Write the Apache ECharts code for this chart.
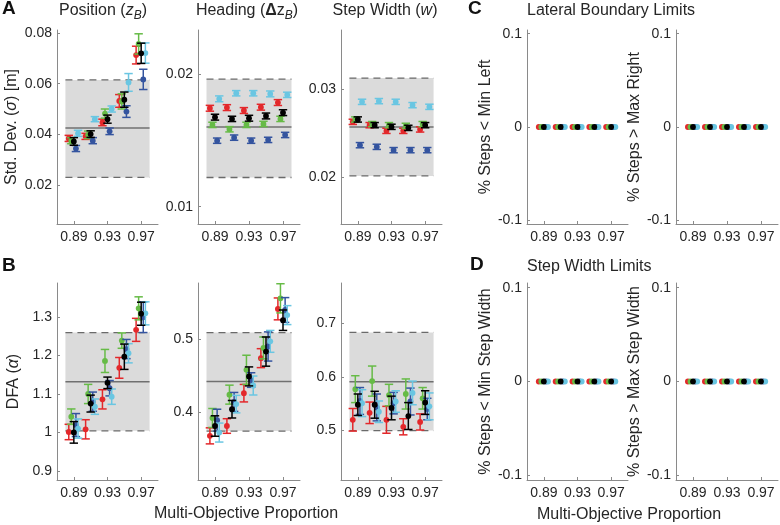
<!DOCTYPE html>
<html><head><meta charset="utf-8">
<script src="https://cdn.jsdelivr.net/npm/echarts@6/dist/echarts.min.js"></script>
<style>html,body{margin:0;padding:0;background:#fff}#c{width:780px;height:525px}</style>
</head><body><div id="c"></div>
<script>
// ---------- data ----------
const proportions = [0.89, 0.91, 0.93, 0.95, 0.97];
const xTicks = [0.89, 0.93, 0.97];
// drawing order: red, green, blue, cyan, black
const groupColors = ['#e3282b', '#66bb46', '#34549f', '#6ac6e2', '#000000'];
const groupOffsets = [-0.006, -0.003, 0.0025, 0.005, 0];

// A: Position std dev
const posStdMean = [
  [0.0384, 0.0392, 0.0447, 0.0532, 0.0713],
  [0.0375, 0.0398, 0.0482, 0.0530, 0.0757],
  [0.0344, 0.0375, 0.0412, 0.0490, 0.0617],
  [0.0404, 0.0460, 0.0500, 0.0605, 0.0721],
  [0.0372, 0.0401, 0.0460, 0.0537, 0.0720]];
const posStdErr = [
  [0.0012, 0.0012, 0.0013, 0.0025, 0.0035],
  [0.0012, 0.0015, 0.0018, 0.0030, 0.0040],
  [0.0012, 0.0012, 0.0013, 0.0023, 0.0040],
  [0.0012, 0.0010, 0.0012, 0.0035, 0.0040],
  [0.0015, 0.0013, 0.0016, 0.0030, 0.0040]];
const posStdBand = [0.023, 0.0615, 0.0425];
const posStdTicks = [0.02, 0.04, 0.06, 0.08];

// A: Heading std dev
const headStdMean = [
  [0.01741, 0.01746, 0.01724, 0.01749, 0.01784],
  [0.01616, 0.01583, 0.01616, 0.01623, 0.01661],
  [0.01497, 0.01520, 0.01497, 0.01503, 0.01540],
  [0.01812, 0.01854, 0.01854, 0.01849, 0.01842],
  [0.01674, 0.01661, 0.01666, 0.01683, 0.01708]];
const headStdErr = [
  [0.00022, 0.00022, 0.00022, 0.00022, 0.00022],
  [0.00020, 0.00020, 0.00020, 0.00020, 0.00020],
  [0.00020, 0.00020, 0.00020, 0.00020, 0.00020],
  [0.00022, 0.00020, 0.00020, 0.00022, 0.00020],
  [0.00022, 0.00020, 0.00022, 0.00022, 0.00022]];
const headStdBand = [0.0122, 0.0196, 0.0160];
const headStdTicks = [0.01, 0.02];

// A: Step width std dev
const swStdMean = [
  [0.02629, 0.02591, 0.02526, 0.02526, 0.02542],
  [0.02656, 0.02603, 0.02591, 0.02583, 0.02603],
  [0.02362, 0.02343, 0.02305, 0.02305, 0.02305],
  [0.02858, 0.02866, 0.02858, 0.02820, 0.02801],
  [0.02656, 0.02591, 0.02572, 0.02560, 0.02591]];
const swStdErr = [
  [0.0003, 0.0003, 0.0003, 0.0003, 0.0003],
  [0.0003, 0.0003, 0.0003, 0.0003, 0.0003],
  [0.0003, 0.0003, 0.0003, 0.0003, 0.0003],
  [0.0003, 0.0003, 0.0003, 0.0003, 0.0003],
  [0.0003, 0.0003, 0.0003, 0.0003, 0.0003]];
const swStdBand = [0.0201, 0.0313, 0.0257];
const swStdTicks = [0.02, 0.03];

// B: DFA position
const posDfaMean = [
  [1.001, 1.008, 1.086, 1.168, 1.267],
  [1.041, 1.100, 1.186, 1.239, 1.323],
  [1.019, 1.080, 1.115, 1.217, 1.300],
  [1.010, 1.067, 1.093, 1.206, 1.310],
  [1.000, 1.075, 1.129, 1.197, 1.309]];
const posDfaErr = [
  [0.020, 0.025, 0.025, 0.027, 0.030],
  [0.020, 0.025, 0.030, 0.020, 0.030],
  [0.030, 0.025, 0.020, 0.025, 0.040],
  [0.025, 0.020, 0.020, 0.025, 0.030],
  [0.028, 0.022, 0.015, 0.033, 0.030]];
const posDfaBand = [1.004, 1.26, 1.132];
const posDfaTicks = [0.9, 1, 1.1, 1.2, 1.3];

// B: DFA heading
const headDfaMean = [
  [0.3675, 0.381, 0.426, 0.474, 0.5415],
  [0.392, 0.424, 0.458, 0.488, 0.556],
  [0.389, 0.414, 0.444, 0.490, 0.540],
  [0.372, 0.411, 0.4365, 0.497, 0.533],
  [0.381, 0.404, 0.449, 0.483, 0.526]];
const headDfaErr = [
  [0.011, 0.010, 0.012, 0.013, 0.015],
  [0.013, 0.013, 0.020, 0.015, 0.020],
  [0.015, 0.013, 0.010, 0.020, 0.017],
  [0.013, 0.012, 0.013, 0.015, 0.013],
  [0.014, 0.012, 0.013, 0.020, 0.014]];
const headDfaBand = [0.374, 0.509, 0.442];
const headDfaTicks = [0.4, 0.5];

// B: DFA step width
const swDfaMean = [
  [0.520, 0.533, 0.520, 0.507, 0.516],
  [0.577, 0.592, 0.566, 0.568, 0.560],
  [0.555, 0.543, 0.551, 0.554, 0.540],
  [0.551, 0.535, 0.554, 0.570, 0.545],
  [0.548, 0.548, 0.542, 0.527, 0.552]];
const swDfaErr = [
  [0.021, 0.020, 0.025, 0.015, 0.015],
  [0.025, 0.028, 0.020, 0.028, 0.020],
  [0.025, 0.025, 0.020, 0.025, 0.020],
  [0.025, 0.020, 0.020, 0.022, 0.025],
  [0.020, 0.025, 0.022, 0.025, 0.022]];
const swDfaBand = [0.500, 0.6825, 0.591];
const swDfaTicks = [0.5, 0.6, 0.7];

// C, D: percent of steps beyond limits (all zero)
const limitMean = [
  [0, 0, 0, 0, 0],
  [0, 0, 0, 0, 0],
  [0, 0, 0, 0, 0],
  [0, 0, 0, 0, 0],
  [0, 0, 0, 0, 0]];
const limitErr = [
  [0, 0, 0, 0, 0],
  [0, 0, 0, 0, 0],
  [0, 0, 0, 0, 0],
  [0, 0, 0, 0, 0],
  [0, 0, 0, 0, 0]];
const limitTicks = [-0.1, 0, 0.1];

// ---------- layout ----------
const TXT = '#262626', AX = '#8a8a8a', FONT = 'Liberation Sans, Arial, Helvetica, sans-serif';
const panels = [
  {box:[57, 30, 101, 194], y:[0.0046, 0.0812], ticks:posStdTicks, mean:posStdMean, err:posStdErr, band:posStdBand,
   name:'Std. Dev. ({i|σ}) [m]', gap:37},
  {box:[198, 30, 102, 194], y:[0.0087, 0.0233], ticks:headStdTicks, mean:headStdMean, err:headStdErr, band:headStdBand},
  {box:[341, 30, 101, 194], y:[0.0146, 0.0368], ticks:swStdTicks, mean:swStdMean, err:swStdErr, band:swStdBand},
  {box:[57, 283, 101, 197], y:[0.876, 1.389], ticks:posDfaTicks, mean:posDfaMean, err:posDfaErr, band:posDfaBand,
   name:'DFA ({i|α})', gap:35},
  {box:[198, 283, 102, 197], y:[0.307, 0.577], ticks:headDfaTicks, mean:headDfaMean, err:headDfaErr, band:headDfaBand},
  {box:[341, 283, 101, 197], y:[0.408, 0.7745], ticks:swDfaTicks, mean:swDfaMean, err:swDfaErr, band:swDfaBand},
  {box:[527, 30, 101, 194], y:[-0.104, 0.104], ticks:limitTicks, mean:limitMean, err:limitErr, name:'% Steps < Min Left', gap:30},
  {box:[676, 30, 102, 194], y:[-0.104, 0.104], ticks:limitTicks, mean:limitMean, err:limitErr, name:'% Steps > Max Right', gap:30},
  {box:[527, 283, 101, 197], y:[-0.105, 0.105], ticks:limitTicks, mean:limitMean, err:limitErr, name:'% Steps < Min Step Width', gap:30},
  {box:[676, 283, 102, 197], y:[-0.105, 0.105], ticks:limitTicks, mean:limitMean, err:limitErr, name:'% Steps > Max Step Width', gap:30}
];

function fmt(v) { return String(+(+v).toFixed(4)); }

function bandItem(params, api) {
  const x0 = api.value(0), x1 = api.value(1), lo = api.value(2), hi = api.value(3), m = api.value(4);
  const pTop = api.coord([x0, hi]), pBot = api.coord([x1, lo]), pm = api.coord([x0, m]);
  const dash = {stroke:'#6a6a6a', lineWidth:1.3, lineDash:[7, 5]};
  return {type:'group', children:[
    {type:'rect', shape:{x:pTop[0], y:pTop[1], width:pBot[0]-pTop[0], height:pBot[1]-pTop[1]}, style:{fill:'#dbdbdb'}},
    {type:'line', shape:{x1:pTop[0], y1:pTop[1], x2:pBot[0], y2:pTop[1]}, style:dash},
    {type:'line', shape:{x1:pTop[0], y1:pBot[1], x2:pBot[0], y2:pBot[1]}, style:dash},
    {type:'line', shape:{x1:pTop[0], y1:pm[1], x2:pBot[0], y2:pm[1]}, style:{stroke:'#707070', lineWidth:1.5}}
  ]};
}

function errItem(params, api) {
  const x = api.value(0), y = api.value(1), e = api.value(2);
  const c = api.coord([x, y]);
  const col = api.visual('color');
  const ch = [];
  if (e > 0) {
    const t = api.coord([x, y + e])[1], b = api.coord([x, y - e])[1], w = 4.2;
    const st = {stroke:col, lineWidth:1.5};
    ch.push({type:'line', shape:{x1:c[0], y1:t, x2:c[0], y2:b}, style:st});
    ch.push({type:'line', shape:{x1:c[0]-w, y1:t, x2:c[0]+w, y2:t}, style:st});
    ch.push({type:'line', shape:{x1:c[0]-w, y1:b, x2:c[0]+w, y2:b}, style:st});
  }
  ch.push({type:'circle', shape:{cx:c[0], cy:c[1], r:2.9}, style:{fill:col}});
  return {type:'group', children:ch};
}

const grid = [], xAxis = [], yAxis = [], series = [];
panels.forEach((p, i) => {
  grid.push({left:p.box[0], top:p.box[1], width:p.box[2], height:p.box[3], containLabel:false});
  xAxis.push({type:'value', gridIndex:i, min:0.87, max:0.99,
    axisLine:{show:true, onZero:false, lineStyle:{color:AX, width:1}},
    axisTick:{show:true, inside:true, length:3, customValues:xTicks, lineStyle:{color:AX}},
    axisLabel:{customValues:xTicks, formatter:v => (+v).toFixed(2), fontSize:14, color:TXT, margin:6, fontFamily:FONT},
    splitLine:{show:false}});
  const ya = {type:'value', gridIndex:i, min:p.y[0], max:p.y[1],
    axisLine:{show:true, onZero:false, lineStyle:{color:AX, width:1}},
    axisTick:{show:true, inside:true, length:3, customValues:p.ticks, lineStyle:{color:AX}},
    axisLabel:{customValues:p.ticks, formatter:fmt, fontSize:14, color:TXT, margin:5, fontFamily:FONT},
    splitLine:{show:false}};
  if (p.name) {
    ya.name = p.name; ya.nameLocation = 'middle'; ya.nameGap = p.gap;
    ya.nameTextStyle = {fontSize:16, color:TXT, fontFamily:FONT,
      rich:{i:{fontStyle:'italic', fontSize:16, color:TXT, fontFamily:FONT}}};
  }
  yAxis.push(ya);
  if (p.band) {
    series.push({type:'custom', xAxisIndex:i, yAxisIndex:i, renderItem:bandItem, silent:true, z:1,
      encode:{x:[0, 1], y:[2, 3, 4]},
      data:[[0.88, 0.98, p.band[0], p.band[1], p.band[2]]]});
  }
  groupColors.forEach((col, g) => {
    series.push({type:'custom', xAxisIndex:i, yAxisIndex:i, renderItem:errItem, z:2 + g,
      itemStyle:{color:col}, encode:{x:0, y:1},
      data:proportions.map((x, k) => [x + groupOffsets[g], p.mean[g][k], p.err[g][k]])});
  });
});

const graphic = [
  {type:'text', x:2, y:9, style:{text:'A', font:'bold 19px ' + FONT, fill:'#111', verticalAlign:'middle'}},
  {type:'text', x:2, y:266, style:{text:'B', font:'bold 19px ' + FONT, fill:'#111', verticalAlign:'middle'}},
  {type:'text', x:468, y:9, style:{text:'C', font:'bold 19px ' + FONT, fill:'#111', verticalAlign:'middle'}},
  {type:'text', x:470, y:265, style:{text:'D', font:'bold 19px ' + FONT, fill:'#111', verticalAlign:'middle'}},
  {type:'text', x:103, y:11, style:{text:'Position ({i|z}{s|B})', font:'16px ' + FONT, fill:TXT, align:'center', verticalAlign:'middle',
    rich:{i:{fontStyle:'italic', fontSize:16, fontFamily:FONT, fill:TXT, lineHeight:21, verticalAlign:'middle'},
          s:{fontStyle:'italic', fontSize:12, fontFamily:FONT, fill:TXT, lineHeight:13, verticalAlign:'bottom'}}}},
  {type:'text', x:247, y:11, style:{text:'Heading ({b|Δ}{i|z}{s|B})', font:'16px ' + FONT, fill:TXT, align:'center', verticalAlign:'middle',
    rich:{b:{fontWeight:'bold', fontSize:16, fontFamily:FONT, fill:TXT, lineHeight:21, verticalAlign:'middle'},
          i:{fontSize:16, fontFamily:FONT, fill:TXT, lineHeight:21, verticalAlign:'middle'},
          s:{fontStyle:'italic', fontSize:12, fontFamily:FONT, fill:TXT, lineHeight:13, verticalAlign:'bottom'}}}},
  {type:'text', x:385, y:11, style:{text:'Step Width ({i|w})', font:'16px ' + FONT, fill:TXT, align:'center', verticalAlign:'middle',
    rich:{i:{fontStyle:'italic', fontSize:16, fontFamily:FONT, fill:TXT}}}},
  {type:'text', x:527, y:11, style:{text:'Lateral Boundary Limits', font:'16px ' + FONT, fill:TXT, verticalAlign:'middle'}},
  {type:'text', x:527, y:267, style:{text:'Step Width Limits', font:'16px ' + FONT, fill:TXT, verticalAlign:'middle'}},
  {type:'text', x:246, y:514, style:{text:'Multi-Objective Proportion', font:'16px ' + FONT, fill:TXT, align:'center', verticalAlign:'middle'}},
  {type:'text', x:629, y:515, style:{text:'Multi-Objective Proportion', font:'16px ' + FONT, fill:TXT, align:'center', verticalAlign:'middle'}}
];

const chart = echarts.init(document.getElementById('c'), null, {renderer:'canvas'});
chart.setOption({animation:false, backgroundColor:'#fff', grid, xAxis, yAxis, series, graphic});
</script></body></html>
